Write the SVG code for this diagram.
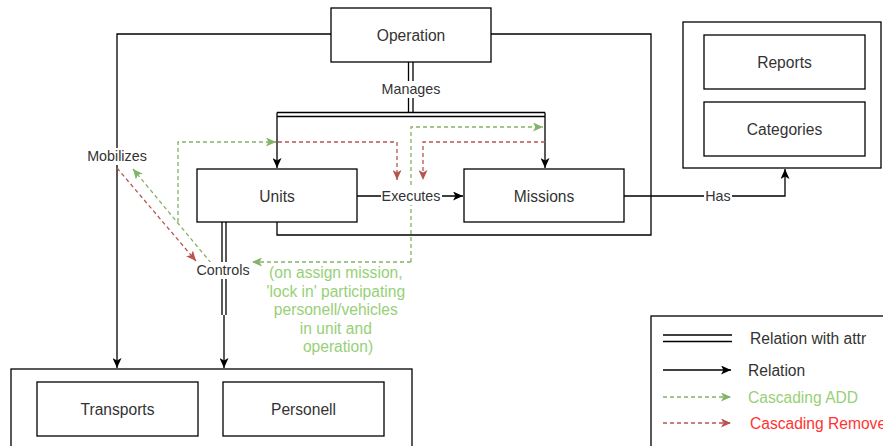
<svg xmlns="http://www.w3.org/2000/svg" width="883" height="446" viewBox="0 0 883 446">
<defs>
<style>
.box{fill:#fff;stroke:#000;stroke-width:1.3}
.grp{fill:none;stroke:#000;stroke-width:1.3}
.t{font-family:"Liberation Sans",Arial,sans-serif;font-size:15.6px;fill:#333;text-anchor:middle;dominant-baseline:central}
.el{font-family:"Liberation Sans",Arial,sans-serif;font-size:14.3px;fill:#333;text-anchor:middle;dominant-baseline:central}
.e{fill:none;stroke:#000;stroke-width:1.3}
.ga{fill:none;stroke:#82b366;stroke-width:1.3;stroke-dasharray:4 3}
.rr{fill:none;stroke:#b85450;stroke-width:1.3;stroke-dasharray:4 3}
.lt{font-family:"Liberation Sans",Arial,sans-serif;font-size:15.6px;fill:#333;dominant-baseline:central}
</style>
<marker id="ab" markerUnits="userSpaceOnUse" markerWidth="11" markerHeight="9" refX="10" refY="4.5" orient="auto"><path d="M0,0 L10,4.5 L0,9 L2.5,4.5 z" fill="#000"/></marker>
<marker id="ag" markerUnits="userSpaceOnUse" markerWidth="11" markerHeight="9" refX="10" refY="4.5" orient="auto"><path d="M0,0 L10,4.5 L0,9 L2.5,4.5 z" fill="#82b366"/></marker>
<marker id="ar" markerUnits="userSpaceOnUse" markerWidth="11" markerHeight="9" refX="10" refY="4.5" orient="auto"><path d="M0,0 L10,4.5 L0,9 L2.5,4.5 z" fill="#b85450"/></marker>
</defs>
<rect width="883" height="446" fill="#fff"/>

<g id="groups">
<rect class="grp" x="11" y="369" width="401" height="90"/>
<rect class="grp" x="683" y="22" width="198" height="146"/>
</g>

<g id="connectors">
<!-- Operation left to Transports (Mobilizes) -->
<path class="e" d="M331,34 H117 V368" marker-end="url(#ab)"/>
<!-- Operation right to Units bottom loop -->
<path class="e" d="M491,34 H651 V235 H277 V222"/>
<!-- Manages double link -->
<path class="e" d="M408.5,62 V112.5 M413,62 V112.5"/>
<path class="e" d="M277,112.5 H545 M277,116.5 H545"/>
<path class="e" d="M277,112.5 V168" marker-end="url(#ab)"/>
<path class="e" d="M545,112.5 V168" marker-end="url(#ab)"/>
<!-- Executes -->
<path class="e" d="M357,196 H463" marker-end="url(#ab)"/>
<!-- Has -->
<path class="e" d="M624,196 H785 V169" marker-end="url(#ab)"/>
<!-- Controls double link -->
<path class="e" d="M222,222 V315 M226,222 V315"/>
<path class="e" d="M224,315 V368" marker-end="url(#ab)"/>
<!-- cascading -->
<path class="ga" d="M178,222 V142 H276" marker-end="url(#ag)"/>
<path class="rr" d="M278,142 H397 V180" marker-end="url(#ar)"/>
<path class="rr" d="M545,142 H423 V180" marker-end="url(#ar)"/>
<path class="ga" d="M411,262 V127 H543" marker-end="url(#ag)"/>
<path class="ga" d="M411,262 H252" marker-end="url(#ag)"/>
<path class="rr" d="M117,168 L196,261" marker-end="url(#ar)"/>
<path class="ga" d="M211,263 L133,169" marker-end="url(#ag)"/>
<!-- edge labels -->
<rect x="380" y="81" width="62" height="17" fill="#fff"/>
<text class="el" x="411" y="89">Manages</text>
<rect x="381" y="188" width="61" height="17" fill="#fff"/>
<text class="el" x="411" y="196">Executes</text>
<rect x="85" y="148" width="63" height="17" fill="#fff"/>
<text class="el" x="117" y="156">Mobilizes</text>
<rect x="196" y="262" width="54" height="17" fill="#fff"/>
<text class="el" x="223" y="270">Controls</text>
<rect x="704" y="188" width="28" height="17" fill="#fff"/>
<text class="el" x="718" y="196">Has</text>
</g>

<g id="Operation"><rect class="box" x="331" y="8" width="160" height="54"/><text class="t" x="411" y="35">Operation</text></g>
<g id="Units"><rect class="box" x="197" y="169" width="160" height="53"/><text class="t" x="277" y="196">Units</text></g>
<g id="Missions"><rect class="box" x="464" y="169" width="160" height="53"/><text class="t" x="544" y="196">Missions</text></g>
<g id="Reports"><rect class="box" x="704" y="35" width="161" height="54"/><text class="t" x="784.5" y="62">Reports</text></g>
<g id="Categories"><rect class="box" x="704" y="102" width="161" height="54"/><text class="t" x="784.5" y="129">Categories</text></g>
<g id="Transports"><rect class="box" x="37" y="382" width="161" height="54"/><text class="t" x="117.5" y="409">Transports</text></g>
<g id="Personell"><rect class="box" x="223" y="382" width="161" height="54"/><text class="t" x="303.5" y="409">Personell</text></g>

<g id="note">
<text font-family="Liberation Sans,Arial,sans-serif" font-size="15.6" fill="#97d077" text-anchor="middle" dominant-baseline="central">
<tspan x="338" y="272">(on assign mission,</tspan>
<tspan x="338" y="290.5">'lock in' participating</tspan>
<tspan x="338" y="309">personell/vehicles</tspan>
<tspan x="338" y="327.5">in unit and</tspan>
<tspan x="338" y="346">operation)</tspan>
</text>
</g>

<g id="legend">
<rect class="grp" x="651" y="316" width="250" height="150"/>
<path class="e" d="M663,335 H732 M663,341.5 H732"/>
<text class="lt" x="750" y="338">Relation with attr</text>
<path class="e" d="M663,370 H731" marker-end="url(#ab)"/>
<text class="lt" x="748" y="370">Relation</text>
<path class="ga" d="M663,397 H731" marker-end="url(#ag)"/>
<text class="lt" x="748" y="397" style="fill:#97d077">Cascading ADD</text>
<path class="rr" d="M663,423 H731" marker-end="url(#ar)"/>
<text class="lt" x="750" y="423" style="fill:#ff3333">Cascading Remove</text>
</g>
</svg>
